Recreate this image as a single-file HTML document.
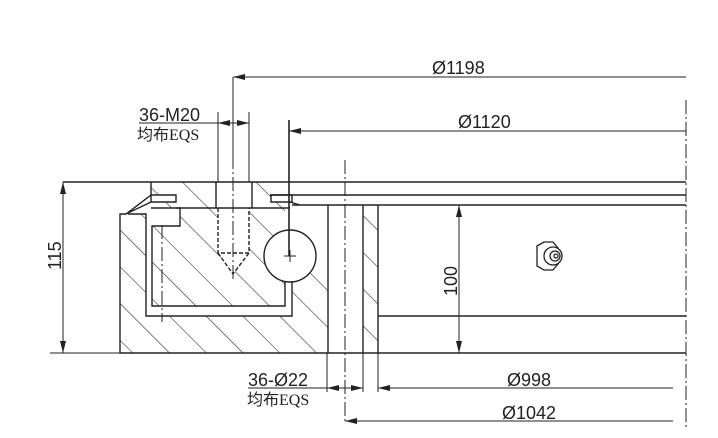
<!DOCTYPE html>
<html><head><meta charset="utf-8"><style>
html,body{margin:0;padding:0;background:#fff;}
svg{display:block}
text{font-family:"Liberation Sans","Noto Sans CJK SC",sans-serif;fill:#222}
</style></head><body>
<svg width="718" height="438" viewBox="0 0 718 438" xmlns="http://www.w3.org/2000/svg">
<defs>
<pattern id="h" patternUnits="userSpaceOnUse" width="26" height="26" patternTransform="rotate(-45)">
<line x1="0" y1="0" x2="0" y2="26" stroke="#222" stroke-width="1.1"/>
</pattern>
<marker id="a" markerWidth="12" markerHeight="6" refX="12" refY="3" orient="auto-start-reverse" markerUnits="userSpaceOnUse">
<path d="M0,0 L12,3 L0,6z" fill="#222"/></marker>
</defs>
<rect width="718" height="438" fill="#fff"/>
<g stroke="#222" fill="none" stroke-width="1.4">
<path d="M120,214 L146,214 L146,316 L292,316 L292,282 L328,255 L328,353 L120,353Z" fill="url(#h)" stroke="none"/>
<path d="M180,208 L285,208 L285,306 L152,306 L152,226 L180,226Z" fill="url(#h)" stroke="none"/>
<path d="M151,182 L290,182 L290,208 L151,208Z" fill="url(#h)" stroke="none"/>
<path d="M363,205 L378,205 L378,353 L363,353Z" fill="url(#h)" stroke="none"/>
<rect x="216" y="182" width="36" height="26" fill="#fff" stroke="none"/>
<rect x="218" y="208" width="31" height="45" fill="#fff" stroke="none"/>
<path d="M218,253 L249,253 L233,274Z" fill="#fff" stroke="none"/>
<circle cx="290" cy="256" r="26" fill="#fff"/>
<path d="M151,195 L176,195 L176,202 L151,202Z" fill="#fff"/>
<path d="M271,195 L292,195 L292,202 L271,202Z" fill="#fff"/>
<path d="M63,182 L686,182"/>
<path d="M270,195 L686,195"/>
<path d="M292,205 L686,205"/>
<path d="M151,182 L151,195 L126,214 L120,214 L120,353 L686,353"/>
<path d="M151,202 L126,214"/>
<path d="M128,214 L146,214 L146,316 L292,316 L292,282"/>
<path d="M176,208 L180,208 L180,226 L152,226 L152,306 L285,306 L285,282"/>
<path d="M151,208 L290,208"/>
<path d="M216,182 L216,208 M252,182 L252,208"/>
<path d="M218,208 L218,253 L249,253 L249,208 M218,253 L233,274 L249,253" stroke-dasharray="4,2"/>
<path d="M290,202 L300,205"/>
<path d="M328,205 L328,353 M363,205 L363,353 M378,205 L378,353"/>
<path d="M378,316 L686,316"/>
<path d="M284,256 L296,256 M290,250 L290,262" stroke-width="1"/>
<path d="M345,160 L345,421 M686,100 L686,430 M233,155 L233,280 M162,225 L162,322" stroke-dasharray="14,3,2,3" stroke-width="1"/>
<path d="M289,120 L289,256" stroke-width="1.6"/>
<g stroke-width="1">
<path d="M233,77 L233,155"/>
<path d="M233,77 L686,77" marker-start="url(#a)"/>
<path d="M289,131 L686,131" marker-start="url(#a)"/>
<path d="M139,123 L218,123"/>
<path d="M218,123 L233,123" marker-start="url(#a)"/>
<path d="M249,123 L233,123" marker-start="url(#a)"/>
<path d="M218,112 L218,182 M249,112 L249,182"/>
<path d="M63,182 L63,353" marker-start="url(#a)" marker-end="url(#a)"/>
<path d="M50,353 L120,353"/>
<path d="M459,205 L459,353" marker-start="url(#a)" marker-end="url(#a)"/>
<path d="M248,388 L327,388"/>
<path d="M327,388 L345,388" marker-start="url(#a)"/>
<path d="M363,388 L345,388" marker-start="url(#a)"/>
<path d="M327,353 L327,392 M363,353 L363,392 M378,353 L378,392"/>
<path d="M378,388 L673,388" marker-start="url(#a)"/>
<path d="M345,421 L673,421" marker-start="url(#a)"/>
</g>
</g>
<g stroke="#222" fill="#fff" stroke-width="1.3">
<path d="M537,246 L544,242 L553,242 L558,248 L558,264 L553,270 L544,270 L537,266Z"/>
<circle cx="553" cy="256" r="9"/>
<circle cx="555" cy="256" r="5"/>
<circle cx="556" cy="256" r="2"/>
</g>
<g font-size="18">
<text x="432" y="74">Ø1198</text>
<text x="458" y="128">Ø1120</text>
<text x="139" y="121">36-M20</text>
<text x="137" y="140" font-size="16">均布<tspan font-family="Liberation Serif">EQS</tspan></text>
<text x="507" y="386">Ø998</text>
<text x="502" y="419">Ø1042</text>
<text x="248" y="386">36-Ø22</text>
<text x="247" y="405" font-size="16">均布<tspan font-family="Liberation Serif">EQS</tspan></text>
<text transform="translate(61,270) rotate(-90)">115</text>
<text transform="translate(457,296) rotate(-90)">100</text>
</g>
</svg>
</body></html>
